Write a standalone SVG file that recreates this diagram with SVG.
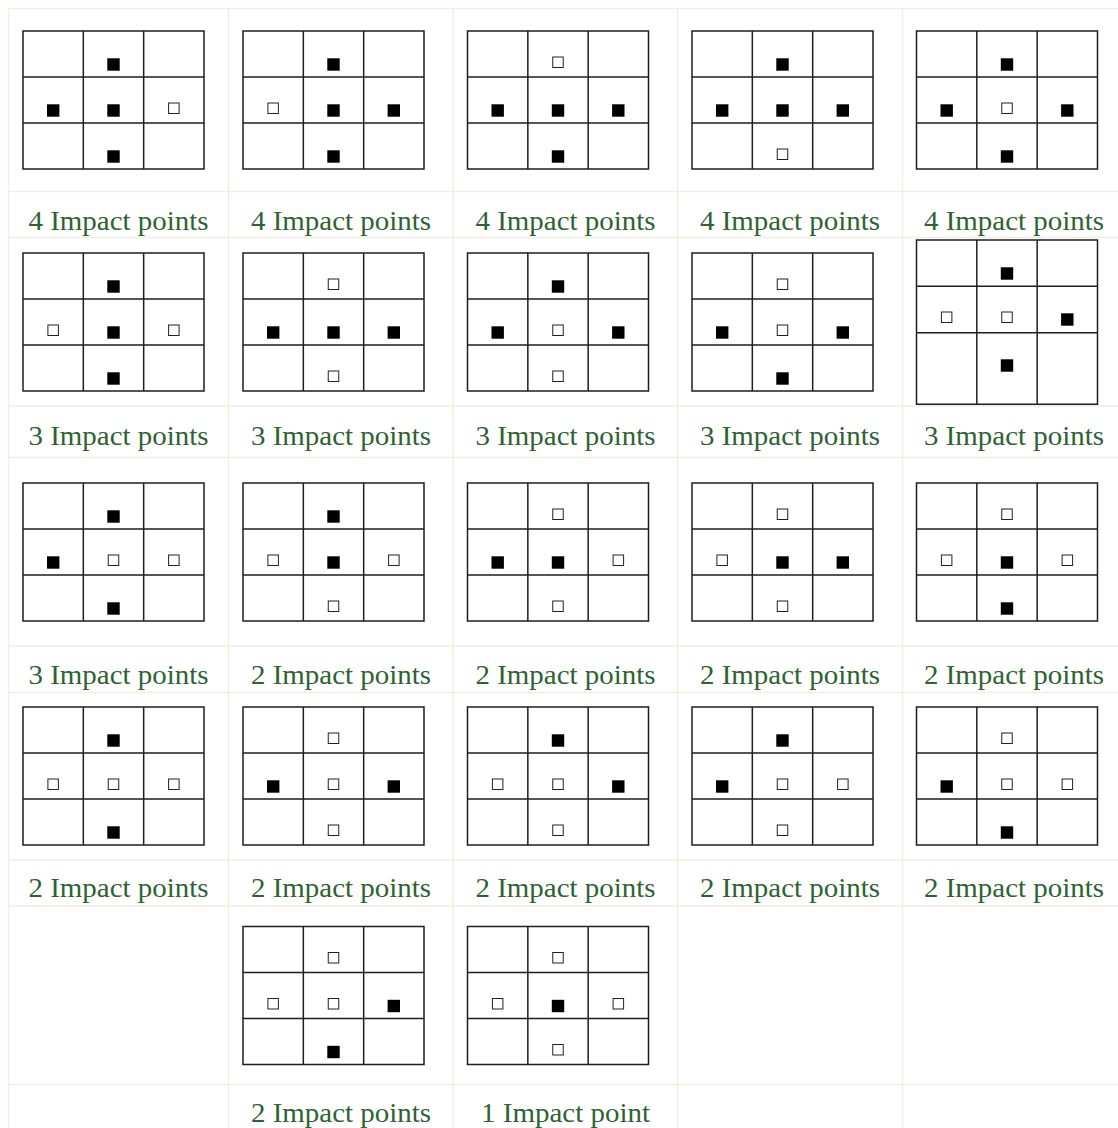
<svg xmlns="http://www.w3.org/2000/svg" xmlns:xlink="http://www.w3.org/1999/xlink" width="1118" height="1128" viewBox="0 0 1118 1128">
<style>
.tl{stroke:#efeee2;stroke-width:1.5;fill:none}
.gr{fill:#fff;stroke:#1e1e1e;stroke-width:1.5}
.f{fill:#000}
.h{fill:#fff;stroke:#222;stroke-width:1}
.lb{font-family:"Liberation Serif","DejaVu Serif",serif;font-size:28px;fill:#2d6330;text-anchor:middle}
</style>
<defs>
<path id="grid" class="gr" d="M0,0 H181 V138 H0 Z M60.33,0 V138 M120.67,0 V138 M0,46 H181 M0,92 H181"/>
<path id="gridT" class="gr" d="M0,0 H181 V164.3 H0 Z M60.33,0 V164.3 M120.67,0 V164.3 M0,46.3 H181 M0,92.7 H181"/>
<rect id="fT" class="f" x="84.3" y="27.3" width="12.4" height="12.4"/>
<rect id="fL" class="f" x="24" y="73.3" width="12.4" height="12.4"/>
<rect id="fC" class="f" x="84.3" y="73.3" width="12.4" height="12.4"/>
<rect id="fR" class="f" x="144.6" y="73.3" width="12.4" height="12.4"/>
<rect id="fB" class="f" x="84.3" y="119.3" width="12.4" height="12.4"/>
<rect id="hT" class="h" x="85.25" y="26" width="10.5" height="10.5"/>
<rect id="hL" class="h" x="24.9" y="72" width="10.5" height="10.5"/>
<rect id="hC" class="h" x="85.25" y="72" width="10.5" height="10.5"/>
<rect id="hR" class="h" x="145.6" y="72" width="10.5" height="10.5"/>
<rect id="hB" class="h" x="85.25" y="118" width="10.5" height="10.5"/>
</defs>
<rect width="1118" height="1128" fill="#fff"/>
<g id="table-lines">
<path class="tl" d="M8.5,8.5 V1128 M228.5,8.5 V1128 M453.3,8.5 V1128 M677.5,8.5 V1128 M902.5,8.5 V1128 M8.5,8.5 H1118 M8.5,191.5 H1118 M8.5,237.5 H1118 M8.5,406 H1118 M8.5,457.5 H1118 M8.5,646 H1118 M8.5,692.5 H1118 M8.5,860 H1118 M8.5,906 H1118 M8.5,1084.5 H1118"/>
</g>
<g id="connectors"></g>

<!-- Row 1 -->
<g id="n1" transform="translate(23,31)"><use xlink:href="#grid"/><use xlink:href="#fT"/><use xlink:href="#fL"/><use xlink:href="#fC"/><use xlink:href="#hR"/><use xlink:href="#fB"/></g>
<g id="n2" transform="translate(243,31)"><use xlink:href="#grid"/><use xlink:href="#fT"/><use xlink:href="#hL"/><use xlink:href="#fC"/><use xlink:href="#fR"/><use xlink:href="#fB"/></g>
<g id="n3" transform="translate(467.5,31)"><use xlink:href="#grid"/><use xlink:href="#hT"/><use xlink:href="#fL"/><use xlink:href="#fC"/><use xlink:href="#fR"/><use xlink:href="#fB"/></g>
<g id="n4" transform="translate(692,31)"><use xlink:href="#grid"/><use xlink:href="#fT"/><use xlink:href="#fL"/><use xlink:href="#fC"/><use xlink:href="#fR"/><use xlink:href="#hB"/></g>
<g id="n5" transform="translate(916.5,31)"><use xlink:href="#grid"/><use xlink:href="#fT"/><use xlink:href="#fL"/><use xlink:href="#hC"/><use xlink:href="#fR"/><use xlink:href="#fB"/></g>
<g id="labels1">
<text class="lb" x="118.5" y="230" textLength="180" lengthAdjust="spacingAndGlyphs">4 Impact points</text>
<text class="lb" x="341" y="230" textLength="180" lengthAdjust="spacingAndGlyphs">4 Impact points</text>
<text class="lb" x="565.5" y="230" textLength="180" lengthAdjust="spacingAndGlyphs">4 Impact points</text>
<text class="lb" x="790" y="230" textLength="180" lengthAdjust="spacingAndGlyphs">4 Impact points</text>
<text class="lb" x="1014" y="230" textLength="180" lengthAdjust="spacingAndGlyphs">4 Impact points</text>
</g>

<!-- Row 2 -->
<g id="n6" transform="translate(23,253)"><use xlink:href="#grid"/><use xlink:href="#fT"/><use xlink:href="#hL"/><use xlink:href="#fC"/><use xlink:href="#hR"/><use xlink:href="#fB"/></g>
<g id="n7" transform="translate(243,253)"><use xlink:href="#grid"/><use xlink:href="#hT"/><use xlink:href="#fL"/><use xlink:href="#fC"/><use xlink:href="#fR"/><use xlink:href="#hB"/></g>
<g id="n8" transform="translate(467.5,253)"><use xlink:href="#grid"/><use xlink:href="#fT"/><use xlink:href="#fL"/><use xlink:href="#hC"/><use xlink:href="#fR"/><use xlink:href="#hB"/></g>
<g id="n9" transform="translate(692,253)"><use xlink:href="#grid"/><use xlink:href="#hT"/><use xlink:href="#fL"/><use xlink:href="#hC"/><use xlink:href="#fR"/><use xlink:href="#fB"/></g>
<g id="n10" transform="translate(916.5,240)"><use xlink:href="#gridT"/><use xlink:href="#fT"/><use xlink:href="#hL"/><use xlink:href="#hC"/><use xlink:href="#fR"/><use xlink:href="#fB"/></g>
<g id="labels2">
<text class="lb" x="118.5" y="445" textLength="180" lengthAdjust="spacingAndGlyphs">3 Impact points</text>
<text class="lb" x="341" y="445" textLength="180" lengthAdjust="spacingAndGlyphs">3 Impact points</text>
<text class="lb" x="565.5" y="445" textLength="180" lengthAdjust="spacingAndGlyphs">3 Impact points</text>
<text class="lb" x="790" y="445" textLength="180" lengthAdjust="spacingAndGlyphs">3 Impact points</text>
<text class="lb" x="1014" y="445" textLength="180" lengthAdjust="spacingAndGlyphs">3 Impact points</text>
</g>

<!-- Row 3 -->
<g id="n11" transform="translate(23,483)"><use xlink:href="#grid"/><use xlink:href="#fT"/><use xlink:href="#fL"/><use xlink:href="#hC"/><use xlink:href="#hR"/><use xlink:href="#fB"/></g>
<g id="n12" transform="translate(243,483)"><use xlink:href="#grid"/><use xlink:href="#fT"/><use xlink:href="#hL"/><use xlink:href="#fC"/><use xlink:href="#hR"/><use xlink:href="#hB"/></g>
<g id="n13" transform="translate(467.5,483)"><use xlink:href="#grid"/><use xlink:href="#hT"/><use xlink:href="#fL"/><use xlink:href="#fC"/><use xlink:href="#hR"/><use xlink:href="#hB"/></g>
<g id="n14" transform="translate(692,483)"><use xlink:href="#grid"/><use xlink:href="#hT"/><use xlink:href="#hL"/><use xlink:href="#fC"/><use xlink:href="#fR"/><use xlink:href="#hB"/></g>
<g id="n15" transform="translate(916.5,483)"><use xlink:href="#grid"/><use xlink:href="#hT"/><use xlink:href="#hL"/><use xlink:href="#fC"/><use xlink:href="#hR"/><use xlink:href="#fB"/></g>
<g id="labels3">
<text class="lb" x="118.5" y="684" textLength="180" lengthAdjust="spacingAndGlyphs">3 Impact points</text>
<text class="lb" x="341" y="684" textLength="180" lengthAdjust="spacingAndGlyphs">2 Impact points</text>
<text class="lb" x="565.5" y="684" textLength="180" lengthAdjust="spacingAndGlyphs">2 Impact points</text>
<text class="lb" x="790" y="684" textLength="180" lengthAdjust="spacingAndGlyphs">2 Impact points</text>
<text class="lb" x="1014" y="684" textLength="180" lengthAdjust="spacingAndGlyphs">2 Impact points</text>
</g>

<!-- Row 4 -->
<g id="n16" transform="translate(23,707)"><use xlink:href="#grid"/><use xlink:href="#fT"/><use xlink:href="#hL"/><use xlink:href="#hC"/><use xlink:href="#hR"/><use xlink:href="#fB"/></g>
<g id="n17" transform="translate(243,707)"><use xlink:href="#grid"/><use xlink:href="#hT"/><use xlink:href="#fL"/><use xlink:href="#hC"/><use xlink:href="#fR"/><use xlink:href="#hB"/></g>
<g id="n18" transform="translate(467.5,707)"><use xlink:href="#grid"/><use xlink:href="#fT"/><use xlink:href="#hL"/><use xlink:href="#hC"/><use xlink:href="#fR"/><use xlink:href="#hB"/></g>
<g id="n19" transform="translate(692,707)"><use xlink:href="#grid"/><use xlink:href="#fT"/><use xlink:href="#fL"/><use xlink:href="#hC"/><use xlink:href="#hR"/><use xlink:href="#hB"/></g>
<g id="n20" transform="translate(916.5,707)"><use xlink:href="#grid"/><use xlink:href="#hT"/><use xlink:href="#fL"/><use xlink:href="#hC"/><use xlink:href="#hR"/><use xlink:href="#fB"/></g>
<g id="labels4">
<text class="lb" x="118.5" y="897" textLength="180" lengthAdjust="spacingAndGlyphs">2 Impact points</text>
<text class="lb" x="341" y="897" textLength="180" lengthAdjust="spacingAndGlyphs">2 Impact points</text>
<text class="lb" x="565.5" y="897" textLength="180" lengthAdjust="spacingAndGlyphs">2 Impact points</text>
<text class="lb" x="790" y="897" textLength="180" lengthAdjust="spacingAndGlyphs">2 Impact points</text>
<text class="lb" x="1014" y="897" textLength="180" lengthAdjust="spacingAndGlyphs">2 Impact points</text>
</g>

<!-- Row 5 -->
<g id="n21" transform="translate(243,926.5)"><use xlink:href="#grid"/><use xlink:href="#hT"/><use xlink:href="#hL"/><use xlink:href="#hC"/><use xlink:href="#fR"/><use xlink:href="#fB"/></g>
<g id="n22" transform="translate(467.5,926.5)"><use xlink:href="#grid"/><use xlink:href="#hT"/><use xlink:href="#hL"/><use xlink:href="#fC"/><use xlink:href="#hR"/><use xlink:href="#hB"/></g>
<g id="labels5">
<text class="lb" x="341" y="1122" textLength="180" lengthAdjust="spacingAndGlyphs">2 Impact points</text>
<text class="lb" x="565.5" y="1122" textLength="169" lengthAdjust="spacingAndGlyphs">1 Impact point</text>
</g>
</svg>
